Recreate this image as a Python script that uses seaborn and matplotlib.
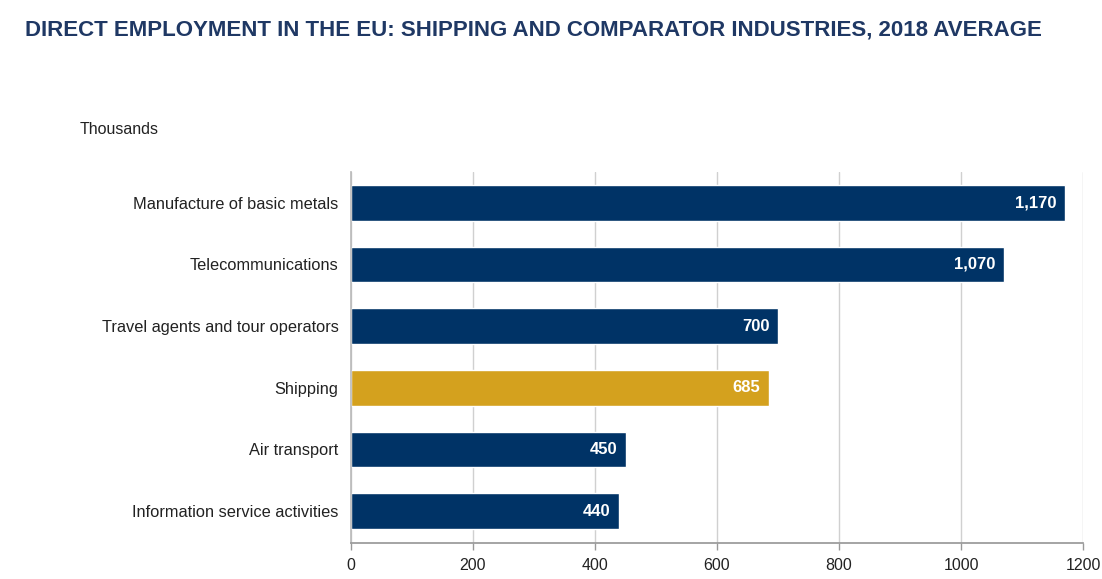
import matplotlib
matplotlib.use("Agg")
import matplotlib.pyplot as plt
import seaborn as sns
import pandas as pd

categories = ["Manufacture of basic metals", "Telecommunications", "Travel agents and tour operators",
              "Shipping", "Air transport", "Information service activities"]
values = [1170, 1070, 700, 685, 450, 440]
value_labels = ["1,170", "1,070", "700", "685", "450", "440"]
xticks = [0, 200, 400, 600, 800, 1000, 1200]

NAVY = "#003366"
GOLD = "#D4A11E"
palette = {c: (GOLD if c == "Shipping" else NAVY) for c in categories}

sns.set_theme(style="white")
plt.rcParams['font.family'] = ['Liberation Sans', 'DejaVu Sans']

df = pd.DataFrame({"category": categories, "value": values})

fig = plt.figure(figsize=(11.02, 5.79), dpi=100)
ax = fig.add_axes([0.3185, 0.062, 0.6643, 0.641])

sns.barplot(data=df, y="category", x="value", hue="category", palette=palette,
            order=categories, width=0.58, legend=False, ax=ax, saturation=1)

ax.set_xlim(0, 1200)
ax.set_ylim(5.52, -0.5)
ax.set_xticks(xticks)
ax.set_xticklabels([str(t) for t in xticks], fontsize=11.5, color="#222222")
ax.tick_params(axis="x", length=5, width=1, color="#999999", direction="out", pad=6, bottom=True)
ax.tick_params(axis="y", length=0, pad=9, labelsize=11.8, labelcolor="#222222")
ax.set_xlabel("")
ax.set_ylabel("")
ax.grid(axis="x", color="#d0d0d0", linewidth=1)
ax.set_axisbelow(True)
for s in ["top", "right"]:
    ax.spines[s].set_visible(False)
ax.spines["bottom"].set_color("#999999")
ax.spines["left"].set_color("#bbbbbb")

for i, (v, lab) in enumerate(zip(values, value_labels)):
    ax.text(v - 14, i, lab, ha="right", va="center", color="white",
            fontsize=12, fontweight="bold")

fig.text(0.023, 0.948, "DIRECT EMPLOYMENT IN THE EU: SHIPPING AND COMPARATOR INDUSTRIES, 2018 AVERAGE",
         fontsize=16, fontweight="bold", color="#1F3864", ha="left", va="center")
fig.text(0.072, 0.777, "Thousands", fontsize=11.5, color="#222222", ha="left", va="center")

fig.savefig("out.png", dpi=100, facecolor="white")
